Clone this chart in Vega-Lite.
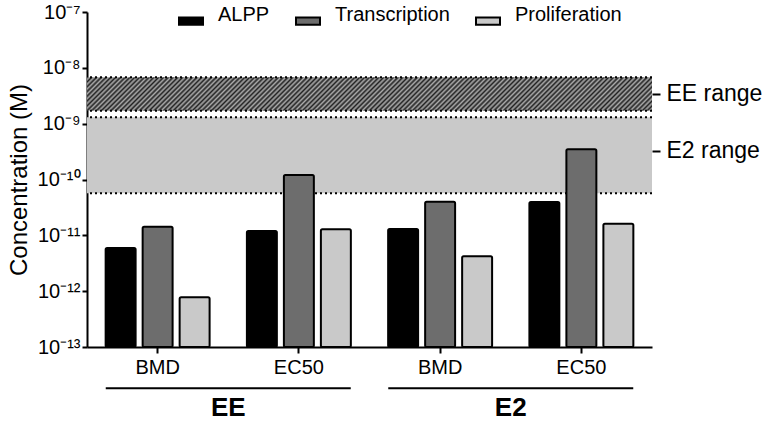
{
 "$schema": "https://vega.github.io/schema/vega-lite/v6.json",
 "width": 565,
 "height": 335,
 "autosize": {"type": "none"},
 "padding": {"left": 87, "top": 12, "right": 116, "bottom": 76},
 "background": "white",
 "config": {"font": "Liberation Sans", "view": {"stroke": null}, "axis": {"grid": false}},
 "datasets": {
  "bars": [
   {"grp": "EE BMD", "assay": "ALPP", "value": 5.95e-12},
   {"grp": "EE BMD", "assay": "Transcription", "value": 1.42e-11},
   {"grp": "EE BMD", "assay": "Proliferation", "value": 7.8e-13},
   {"grp": "EE EC50", "assay": "ALPP", "value": 1.19e-11},
   {"grp": "EE EC50", "assay": "Transcription", "value": 1.2e-10},
   {"grp": "EE EC50", "assay": "Proliferation", "value": 1.28e-11},
   {"grp": "E2 BMD", "assay": "ALPP", "value": 1.3e-11},
   {"grp": "E2 BMD", "assay": "Transcription", "value": 4.0e-11},
   {"grp": "E2 BMD", "assay": "Proliferation", "value": 4.2e-12},
   {"grp": "E2 EC50", "assay": "ALPP", "value": 3.95e-11},
   {"grp": "E2 EC50", "assay": "Transcription", "value": 3.48e-10},
   {"grp": "E2 EC50", "assay": "Proliferation", "value": 1.61e-11}
  ],
  "bands": [
   {"band": "EE", "lo": 1.71e-9, "hi": 6.8e-9},
   {"band": "E2", "lo": 5.65e-11, "hi": 1.3e-9}
  ],
  "compounds": [{"compound": "EE"}, {"compound": "E2"}]
 },
 "layer": [
  {
   "data": {"name": "bands"},
   "transform": [{"filter": "datum.band == 'EE'"}],
   "mark": {"type": "rect", "fill": {"gradient": "linear", "x1": 0, "y1": 0, "x2": 1.0555, "y2": 0.0625, "stops": [
{"offset":0,"color":"#222"},{"offset":0.004,"color":"#aaa"},{"offset":0.008,"color":"#222"},{"offset":0.012,"color":"#aaa"},{"offset":0.016,"color":"#222"},{"offset":0.02,"color":"#aaa"},{"offset":0.024,"color":"#222"},{"offset":0.028,"color":"#aaa"},{"offset":0.032,"color":"#222"},{"offset":0.036,"color":"#aaa"},
{"offset":0.04,"color":"#222"},{"offset":0.044,"color":"#aaa"},{"offset":0.048,"color":"#222"},{"offset":0.052,"color":"#aaa"},{"offset":0.056,"color":"#222"},{"offset":0.06,"color":"#aaa"},{"offset":0.064,"color":"#222"},{"offset":0.068,"color":"#aaa"},{"offset":0.072,"color":"#222"},{"offset":0.076,"color":"#aaa"},
{"offset":0.08,"color":"#222"},{"offset":0.084,"color":"#aaa"},{"offset":0.088,"color":"#222"},{"offset":0.092,"color":"#aaa"},{"offset":0.096,"color":"#222"},{"offset":0.1,"color":"#aaa"},{"offset":0.104,"color":"#222"},{"offset":0.108,"color":"#aaa"},{"offset":0.112,"color":"#222"},{"offset":0.116,"color":"#aaa"},
{"offset":0.12,"color":"#222"},{"offset":0.124,"color":"#aaa"},{"offset":0.128,"color":"#222"},{"offset":0.132,"color":"#aaa"},{"offset":0.136,"color":"#222"},{"offset":0.14,"color":"#aaa"},{"offset":0.144,"color":"#222"},{"offset":0.148,"color":"#aaa"},{"offset":0.152,"color":"#222"},{"offset":0.156,"color":"#aaa"},
{"offset":0.16,"color":"#222"},{"offset":0.164,"color":"#aaa"},{"offset":0.168,"color":"#222"},{"offset":0.172,"color":"#aaa"},{"offset":0.176,"color":"#222"},{"offset":0.18,"color":"#aaa"},{"offset":0.184,"color":"#222"},{"offset":0.188,"color":"#aaa"},{"offset":0.192,"color":"#222"},{"offset":0.196,"color":"#aaa"},
{"offset":0.2,"color":"#222"},{"offset":0.204,"color":"#aaa"},{"offset":0.208,"color":"#222"},{"offset":0.212,"color":"#aaa"},{"offset":0.216,"color":"#222"},{"offset":0.22,"color":"#aaa"},{"offset":0.224,"color":"#222"},{"offset":0.228,"color":"#aaa"},{"offset":0.232,"color":"#222"},{"offset":0.236,"color":"#aaa"},
{"offset":0.24,"color":"#222"},{"offset":0.244,"color":"#aaa"},{"offset":0.248,"color":"#222"},{"offset":0.252,"color":"#aaa"},{"offset":0.256,"color":"#222"},{"offset":0.26,"color":"#aaa"},{"offset":0.264,"color":"#222"},{"offset":0.268,"color":"#aaa"},{"offset":0.272,"color":"#222"},{"offset":0.276,"color":"#aaa"},
{"offset":0.28,"color":"#222"},{"offset":0.284,"color":"#aaa"},{"offset":0.288,"color":"#222"},{"offset":0.292,"color":"#aaa"},{"offset":0.296,"color":"#222"},{"offset":0.3,"color":"#aaa"},{"offset":0.304,"color":"#222"},{"offset":0.308,"color":"#aaa"},{"offset":0.312,"color":"#222"},{"offset":0.316,"color":"#aaa"},
{"offset":0.32,"color":"#222"},{"offset":0.324,"color":"#aaa"},{"offset":0.328,"color":"#222"},{"offset":0.332,"color":"#aaa"},{"offset":0.336,"color":"#222"},{"offset":0.34,"color":"#aaa"},{"offset":0.344,"color":"#222"},{"offset":0.348,"color":"#aaa"},{"offset":0.352,"color":"#222"},{"offset":0.356,"color":"#aaa"},
{"offset":0.36,"color":"#222"},{"offset":0.364,"color":"#aaa"},{"offset":0.368,"color":"#222"},{"offset":0.372,"color":"#aaa"},{"offset":0.376,"color":"#222"},{"offset":0.38,"color":"#aaa"},{"offset":0.384,"color":"#222"},{"offset":0.388,"color":"#aaa"},{"offset":0.392,"color":"#222"},{"offset":0.396,"color":"#aaa"},
{"offset":0.4,"color":"#222"},{"offset":0.404,"color":"#aaa"},{"offset":0.408,"color":"#222"},{"offset":0.412,"color":"#aaa"},{"offset":0.416,"color":"#222"},{"offset":0.42,"color":"#aaa"},{"offset":0.424,"color":"#222"},{"offset":0.428,"color":"#aaa"},{"offset":0.432,"color":"#222"},{"offset":0.436,"color":"#aaa"},
{"offset":0.44,"color":"#222"},{"offset":0.444,"color":"#aaa"},{"offset":0.448,"color":"#222"},{"offset":0.452,"color":"#aaa"},{"offset":0.456,"color":"#222"},{"offset":0.46,"color":"#aaa"},{"offset":0.464,"color":"#222"},{"offset":0.468,"color":"#aaa"},{"offset":0.472,"color":"#222"},{"offset":0.476,"color":"#aaa"},
{"offset":0.48,"color":"#222"},{"offset":0.484,"color":"#aaa"},{"offset":0.488,"color":"#222"},{"offset":0.492,"color":"#aaa"},{"offset":0.496,"color":"#222"},{"offset":0.5,"color":"#aaa"},{"offset":0.504,"color":"#222"},{"offset":0.508,"color":"#aaa"},{"offset":0.512,"color":"#222"},{"offset":0.516,"color":"#aaa"},
{"offset":0.52,"color":"#222"},{"offset":0.524,"color":"#aaa"},{"offset":0.528,"color":"#222"},{"offset":0.532,"color":"#aaa"},{"offset":0.536,"color":"#222"},{"offset":0.54,"color":"#aaa"},{"offset":0.544,"color":"#222"},{"offset":0.548,"color":"#aaa"},{"offset":0.552,"color":"#222"},{"offset":0.556,"color":"#aaa"},
{"offset":0.56,"color":"#222"},{"offset":0.564,"color":"#aaa"},{"offset":0.568,"color":"#222"},{"offset":0.572,"color":"#aaa"},{"offset":0.576,"color":"#222"},{"offset":0.58,"color":"#aaa"},{"offset":0.584,"color":"#222"},{"offset":0.588,"color":"#aaa"},{"offset":0.592,"color":"#222"},{"offset":0.596,"color":"#aaa"},
{"offset":0.6,"color":"#222"},{"offset":0.604,"color":"#aaa"},{"offset":0.608,"color":"#222"},{"offset":0.612,"color":"#aaa"},{"offset":0.616,"color":"#222"},{"offset":0.62,"color":"#aaa"},{"offset":0.624,"color":"#222"},{"offset":0.628,"color":"#aaa"},{"offset":0.632,"color":"#222"},{"offset":0.636,"color":"#aaa"},
{"offset":0.64,"color":"#222"},{"offset":0.644,"color":"#aaa"},{"offset":0.648,"color":"#222"},{"offset":0.652,"color":"#aaa"},{"offset":0.656,"color":"#222"},{"offset":0.66,"color":"#aaa"},{"offset":0.664,"color":"#222"},{"offset":0.668,"color":"#aaa"},{"offset":0.672,"color":"#222"},{"offset":0.676,"color":"#aaa"},
{"offset":0.68,"color":"#222"},{"offset":0.684,"color":"#aaa"},{"offset":0.688,"color":"#222"},{"offset":0.692,"color":"#aaa"},{"offset":0.696,"color":"#222"},{"offset":0.7,"color":"#aaa"},{"offset":0.704,"color":"#222"},{"offset":0.708,"color":"#aaa"},{"offset":0.712,"color":"#222"},{"offset":0.716,"color":"#aaa"},
{"offset":0.72,"color":"#222"},{"offset":0.724,"color":"#aaa"},{"offset":0.728,"color":"#222"},{"offset":0.732,"color":"#aaa"},{"offset":0.736,"color":"#222"},{"offset":0.74,"color":"#aaa"},{"offset":0.744,"color":"#222"},{"offset":0.748,"color":"#aaa"},{"offset":0.752,"color":"#222"},{"offset":0.756,"color":"#aaa"},
{"offset":0.76,"color":"#222"},{"offset":0.764,"color":"#aaa"},{"offset":0.768,"color":"#222"},{"offset":0.772,"color":"#aaa"},{"offset":0.776,"color":"#222"},{"offset":0.78,"color":"#aaa"},{"offset":0.784,"color":"#222"},{"offset":0.788,"color":"#aaa"},{"offset":0.792,"color":"#222"},{"offset":0.796,"color":"#aaa"},
{"offset":0.8,"color":"#222"},{"offset":0.804,"color":"#aaa"},{"offset":0.808,"color":"#222"},{"offset":0.812,"color":"#aaa"},{"offset":0.816,"color":"#222"},{"offset":0.82,"color":"#aaa"},{"offset":0.824,"color":"#222"},{"offset":0.828,"color":"#aaa"},{"offset":0.832,"color":"#222"},{"offset":0.836,"color":"#aaa"},
{"offset":0.84,"color":"#222"},{"offset":0.844,"color":"#aaa"},{"offset":0.848,"color":"#222"},{"offset":0.852,"color":"#aaa"},{"offset":0.856,"color":"#222"},{"offset":0.86,"color":"#aaa"},{"offset":0.864,"color":"#222"},{"offset":0.868,"color":"#aaa"},{"offset":0.872,"color":"#222"},{"offset":0.876,"color":"#aaa"},
{"offset":0.88,"color":"#222"},{"offset":0.884,"color":"#aaa"},{"offset":0.888,"color":"#222"},{"offset":0.892,"color":"#aaa"},{"offset":0.896,"color":"#222"},{"offset":0.9,"color":"#aaa"},{"offset":0.904,"color":"#222"},{"offset":0.908,"color":"#aaa"},{"offset":0.912,"color":"#222"},{"offset":0.916,"color":"#aaa"},
{"offset":0.92,"color":"#222"},{"offset":0.924,"color":"#aaa"},{"offset":0.928,"color":"#222"},{"offset":0.932,"color":"#aaa"},{"offset":0.936,"color":"#222"},{"offset":0.94,"color":"#aaa"},{"offset":0.944,"color":"#222"},{"offset":0.948,"color":"#aaa"},{"offset":0.952,"color":"#222"},{"offset":0.956,"color":"#aaa"},
{"offset":0.96,"color":"#222"},{"offset":0.964,"color":"#aaa"},{"offset":0.968,"color":"#222"},{"offset":0.972,"color":"#aaa"},{"offset":0.976,"color":"#222"},{"offset":0.98,"color":"#aaa"},{"offset":0.984,"color":"#222"},{"offset":0.988,"color":"#aaa"},{"offset":0.992,"color":"#222"},{"offset":0.996,"color":"#aaa"},
{"offset":1,"color":"#222"}
   ]}},
   "encoding": {
    "y": {"field": "hi", "type": "quantitative", "scale": {"type": "log", "domain": [1e-13, 1e-7]},
     "axis": {"orient": "right", "title": null, "values": [3.4e-9, 3.3e-10], "labelExpr": "datum.value > 1e-9 ? 'EE range' : 'E2 range'", "domain": false, "tickColor": "black", "tickWidth": 2, "tickSize": 8, "labelFontSize": 23, "labelColor": "black", "labelPadding": 6, "grid": false}},
    "y2": {"field": "lo"}
   }
  },
  {
   "data": {"name": "bands"},
   "transform": [{"filter": "datum.band == 'E2'"}],
   "mark": {"type": "rect", "fill": "#c9c9c9"},
   "encoding": {
    "y": {"field": "hi", "type": "quantitative", "scale": {"type": "log", "domain": [1e-13, 1e-7]}, "axis": null},
    "y2": {"field": "lo"}
   }
  },
  {
   "data": {"name": "bands"},
   "mark": {"type": "rule", "color": "black", "strokeWidth": 2, "strokeDash": [2, 3]},
   "encoding": {
    "y": {"field": "hi", "type": "quantitative", "scale": {"type": "log", "domain": [1e-13, 1e-7]}, "axis": null}
   }
  },
  {
   "data": {"name": "bands"},
   "mark": {"type": "rule", "color": "black", "strokeWidth": 2, "strokeDash": [2, 3]},
   "encoding": {
    "y": {"field": "lo", "type": "quantitative", "scale": {"type": "log", "domain": [1e-13, 1e-7]}, "axis": null}
   }
  },
  {
   "data": {"name": "bars"},
   "mark": {"type": "bar", "stroke": "black", "strokeWidth": 2, "cornerRadius": 1.5},
   "encoding": {
    "x": {"field": "grp", "type": "nominal", "sort": ["EE BMD", "EE EC50", "E2 BMD", "E2 EC50"],
     "scale": {"paddingInner": 0.264, "paddingOuter": 0.132},
     "axis": {"title": null, "labelExpr": "split(datum.label, ' ')[1]", "labelFontSize": 20, "labelColor": "black", "labelAngle": 0, "domainColor": "black", "domainWidth": 2, "tickColor": "black", "tickWidth": 2, "tickSize": 6, "labelPadding": 4}},
    "xOffset": {"field": "assay", "type": "nominal", "sort": ["ALPP", "Transcription", "Proliferation"], "scale": {"paddingInner": 0.19, "paddingOuter": 0}},
    "y": {"field": "value", "type": "quantitative", "stack": null, "scale": {"type": "log", "domain": [1e-13, 1e-7]},
     "axis": {"title": "Concentration (M)", "titleFontSize": 24, "titleFontWeight": "normal", "titleColor": "black", "titlePadding": 6, "values": [1e-13, 1e-12, 1e-11, 1e-10, 1e-9, 1e-8, 1e-7],
      "labelExpr": "'10' + (datum.value < 5e-13 ? '⁻¹³' : datum.value < 5e-12 ? '⁻¹²' : datum.value < 5e-11 ? '⁻¹¹' : datum.value < 5e-10 ? '⁻¹⁰' : datum.value < 5e-9 ? '⁻⁹' : datum.value < 5e-8 ? '⁻⁸' : '⁻⁷')",
      "labelFontSize": 20, "labelColor": "black", "domainColor": "black", "domainWidth": 2, "tickColor": "black", "tickWidth": 2, "tickSize": 5, "labelPadding": 2, "grid": false}},
    "color": {"field": "assay", "type": "nominal", "sort": ["ALPP", "Transcription", "Proliferation"],
     "scale": {"domain": ["ALPP", "Transcription", "Proliferation"], "range": ["#000000", "#6d6d6d", "#c9c9c9"]},
     "legend": {"title": null, "orient": "none", "legendX": 91, "legendY": -4, "direction": "horizontal", "symbolType": "M-1,-0.3H1V0.3H-1Z", "symbolSize": 576, "symbolStrokeColor": "black", "symbolStrokeWidth": 2, "symbolOpacity": 1, "labelFontSize": 20, "labelColor": "black", "labelOffset": 14, "columnPadding": 22, "labelBaseline": "alphabetic", "padding": 0}}
   }
  },
  {
   "data": {"name": "compounds"},
   "mark": {"type": "tick", "size": 245, "thickness": 2, "color": "black", "opacity": 1, "clip": false},
   "encoding": {
    "x": {"field": "compound", "type": "nominal", "sort": ["EE", "E2"], "scale": {"paddingInner": 0.2, "paddingOuter": 0.1}, "axis": null},
    "y": {"datum": 1.82e-14, "type": "quantitative", "scale": {"type": "log", "domain": [1e-13, 1e-7]}, "axis": null}
   }
  },
  {
   "data": {"name": "compounds"},
   "mark": {"type": "text", "fontSize": 26, "fontWeight": "bold", "color": "black", "baseline": "middle", "clip": false},
   "encoding": {
    "x": {"field": "compound", "type": "nominal", "sort": ["EE", "E2"], "scale": {"paddingInner": 0.2, "paddingOuter": 0.1}, "axis": null},
    "y": {"datum": 8.1e-15, "type": "quantitative", "scale": {"type": "log", "domain": [1e-13, 1e-7]}, "axis": null},
    "text": {"field": "compound"}
   }
  }
 ],
 "resolve": {"scale": {"x": "independent"}, "axis": {"x": "independent", "y": "independent"}}
}
